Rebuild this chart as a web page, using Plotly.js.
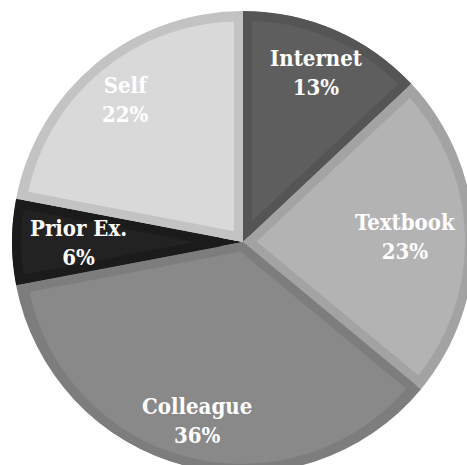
<!DOCTYPE html>
<html><head><meta charset="utf-8">
<script src="https://cdn.plot.ly/plotly-3.0.1.min.js"></script>
<style>html,body{margin:0;padding:0;overflow:hidden;background:#fff}#chart{width:480px;height:480px}</style>
</head><body><div id="chart"></div>
<script>
// ---- data ----
const categories = ['Internet', 'Textbook', 'Colleague', 'Prior Ex.', 'Self'];
const shares = [13, 23, 36, 6, 22];
// ---- style ----
const fillColors = ['#5e5e5e', '#b3b3b3', '#898989', '#222222', '#d9d9d9'];
const edgeColors = ['#555555', '#a3a3a3', '#7d7d7d', '#1b1b1b', '#c3c3c3'];
const FONT_FAMILY = '"DejaVu Serif Condensed", "DejaVu Serif", serif';
const FONT_SIZE = 22;

const W = 480, H = 480;
const margin = {l: 12, r: 6, t: 11, b: 7, pad: 0};
const plotW = W - margin.l - margin.r;
const R = plotW / 2;
const border = 9;
const inset = border / 2;
const total = shares.reduce((a, b) => a + b, 0);

const traces = [];
// base pie in edge colours (fills any small seams)
traces.push({
  type: 'pie', values: shares, labels: categories, sort: false, direction: 'clockwise', rotation: 0,
  marker: {colors: edgeColors, line: {width: 0}}, textinfo: 'none', hoverinfo: 'skip', showlegend: false,
  domain: {x: [0, 1], y: [0, 1]}
});
// each slice inset by half the border so its own border stays inside it
const D = R - inset;
const a = inset / plotW;
let cum = 0;
shares.forEach((v, i) => {
  const theta = 2 * Math.PI * v / total;
  const p = inset / Math.sin(theta / 2);
  const r = D - p;
  traces.push({
    type: 'pie', values: [v, total - v], labels: [categories[i], '_rest' + i], sort: false,
    direction: 'clockwise', rotation: cum / total * 360, pull: [p / r, 0],
    marker: {colors: [fillColors[i], 'rgba(0,0,0,0)'],
             line: {width: [border, 0], color: [edgeColors[i], 'rgba(0,0,0,0)']}},
    textinfo: 'none', hoverinfo: 'skip', showlegend: false,
    domain: {x: [a, 1 - a], y: [a, 1 - a]}
  });
  cum += v;
});

// labels: placed along each slice's bisector, pulled in to fit inside the pie
const ctx = document.createElement('canvas').getContext('2d');
ctx.font = 'bold ' + FONT_SIZE + 'px ' + FONT_FAMILY;
const annotations = [];
cum = 0;
shares.forEach((v, i) => {
  const phi = 2 * Math.PI * (cum + v / 2) / total;
  cum += v;
  const pct = Math.round(v / total * 100) + '%';
  const halfW = Math.max(ctx.measureText(categories[i]).width, ctx.measureText(pct).width) / 2;
  let rl = 0.80 * R;
  for (; rl > 0; rl -= 0.5) {
    const cx = rl * Math.sin(phi), cy = -rl * Math.cos(phi);
    const chord = Math.sqrt(Math.max(0, R * R - cy * cy));
    if (Math.abs(cx) + halfW <= chord - 18) break;
  }
  const cx = rl * Math.sin(phi), cy = -rl * Math.cos(phi);
  annotations.push({
    xref: 'paper', yref: 'paper', x: 0.5 + cx / plotW, y: 0.5 - cy / plotW,
    xanchor: 'center', yanchor: 'middle', align: 'center', showarrow: false,
    text: categories[i] + '<br>' + pct,
    font: {family: FONT_FAMILY, size: FONT_SIZE, color: '#ffffff', weight: 'bold'}
  });
});

Plotly.newPlot('chart', traces, {
  width: W, height: H, margin: margin, showlegend: false,
  paper_bgcolor: '#ffffff', plot_bgcolor: '#ffffff', annotations: annotations
}, {staticPlot: true, displayModeBar: false});
</script></body></html>
